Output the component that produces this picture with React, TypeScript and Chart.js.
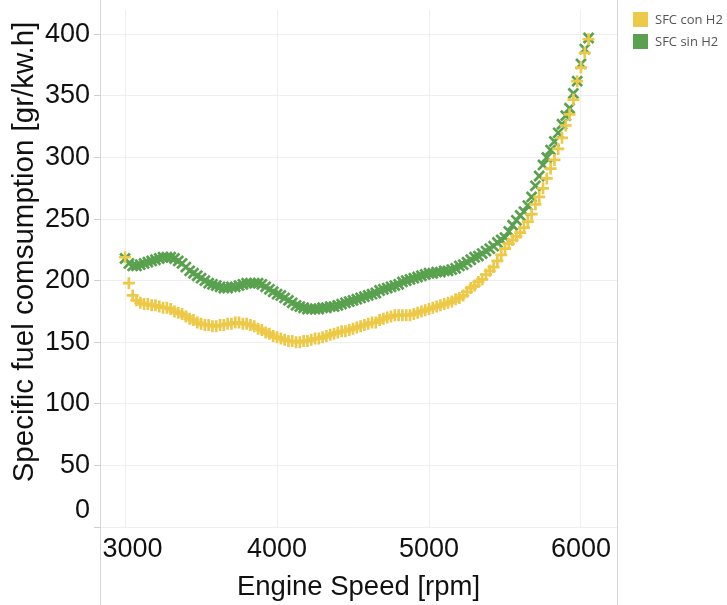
import React, { useEffect, useRef } from 'react';
import { Chart, registerables } from 'chart.js';

Chart.register(...registerables);

const rpm = [
  3000, 3025, 3050, 3075, 3100, 3125, 3150, 3175, 3200, 3225,
  3250, 3275, 3300, 3325, 3350, 3375, 3400, 3425, 3450, 3475,
  3500, 3525, 3550, 3575, 3600, 3625, 3650, 3675, 3700, 3725,
  3750, 3775, 3800, 3825, 3850, 3875, 3900, 3925, 3950, 3975,
  4000, 4025, 4050, 4075, 4100, 4125, 4150, 4175, 4200, 4225,
  4250, 4275, 4300, 4325, 4350, 4375, 4400, 4425, 4450, 4475,
  4500, 4525, 4550, 4575, 4600, 4625, 4650, 4675, 4700, 4725,
  4750, 4775, 4800, 4825, 4850, 4875, 4900, 4925, 4950, 4975,
  5000, 5025, 5050, 5075, 5100, 5125, 5150, 5175, 5200, 5225,
  5250, 5275, 5300, 5325, 5350, 5375, 5400, 5425, 5450, 5475,
  5500, 5525, 5550, 5575, 5600, 5625, 5650, 5675, 5700, 5725,
  5750, 5775, 5800, 5825, 5850, 5875, 5900, 5925, 5950, 5975,
  6000, 6025, 6050,
];

const sfcConH2 = [
  219, 198, 188, 184, 182, 181, 181, 180, 180, 179,
  178, 178, 177, 175, 174, 173, 171, 169, 168, 166,
  165, 164, 164, 163, 163, 164, 164, 165, 165, 166,
  166, 165, 165, 164, 163, 161, 160, 158, 157, 155,
  154, 153, 152, 151, 151, 150, 150, 151, 151, 152,
  153, 153, 154, 155, 156, 157, 158, 159, 159, 160,
  161, 162, 163, 164, 165, 166, 166, 168, 169, 170,
  171, 172, 172, 172, 172, 172, 173, 174, 175, 176,
  177, 178, 179, 180, 181, 182, 183, 185, 186, 188,
  191, 194, 196, 199, 201, 205, 208, 211, 216, 221,
  226, 230, 233, 236, 239, 243, 248, 254, 262, 268,
  275, 283, 291, 298, 307, 316, 326, 335, 347, 362,
  373, 385, 396,
];

const sfcSinH2 = [
  218, 214, 212, 212, 213, 214, 215, 216, 217, 218,
  219, 219, 219, 218, 216, 214, 211, 208, 206, 204,
  202, 200, 198, 197, 196, 195, 194, 194, 195, 195,
  196, 197, 198, 198, 198, 198, 197, 195, 193, 191,
  189, 188, 186, 184, 182, 180, 179, 178, 177, 177,
  177, 177, 178, 178, 179, 179, 180, 181, 182, 183,
  184, 185, 186, 187, 188, 189, 190, 192, 193, 194,
  195, 196, 197, 199, 200, 201, 202, 203, 204, 205,
  206, 206, 207, 207, 208, 208, 209, 210, 212, 213,
  215, 217, 219, 220, 222, 224, 226, 228, 231, 233,
  235, 240, 245, 249, 253, 256, 261, 268, 277, 285,
  294, 300, 306, 313, 320, 327, 334, 340, 352, 362,
  376, 388, 397,
];

const seriesLabels = ['SFC con H2', 'SFC sin H2'];
const seriesColors = ['#EDC948', '#59A14F'];
const xTicks = [3000, 4000, 5000, 6000];
const yTicks = [0, 50, 100, 150, 200, 250, 300, 350, 400];
const xTitle = 'Engine Speed [rpm]';
const yTitle = 'Specific fuel comsumption [gr/kw.h]';

const AXIS_FONT = '"Liberation Sans", Arial, sans-serif';

const framePlugin = {
  id: 'frameLines',
  afterDraw(chart: any) {
    const { ctx, chartArea, height } = chart;
    ctx.save();
    ctx.strokeStyle = '#d6d6d6';
    ctx.lineWidth = 1;
    ctx.beginPath();
    ctx.moveTo(Math.round(chartArea.left) + 0.5, 0);
    ctx.lineTo(Math.round(chartArea.left) + 0.5, height);
    ctx.moveTo(Math.round(chartArea.right) + 0.5, 0);
    ctx.lineTo(Math.round(chartArea.right) + 0.5, height);
    ctx.stroke();
    ctx.restore();
  },
};

const legendPlugin = {
  id: 'sideLegend',
  afterDraw(chart: any) {
    const { ctx, chartArea } = chart;
    const x0 = chartArea.right + 16;
    chart.data.datasets.forEach((ds: any, i: number) => {
      const y = 12 + i * 22;
      ctx.save();
      ctx.fillStyle = ds.borderColor;
      ctx.fillRect(x0, y, 15, 15);
      ctx.fillStyle = '#555555';
      ctx.font = '13px "Open Sans", sans-serif';
      ctx.textBaseline = 'middle';
      ctx.textAlign = 'left';
      ctx.fillText(ds.label, x0 + 22, y + 8);
      ctx.restore();
    });
  },
};

export default function App() {
  const canvasRef = useRef<HTMLCanvasElement | null>(null);

  useEffect(() => {
    if (!canvasRef.current) return;
    const datasets = [sfcConH2, sfcSinH2].map((vals, i) => ({
      label: seriesLabels[i],
      data: rpm.map((r, k) => ({ x: r, y: vals[k] })),
      borderColor: seriesColors[i],
      backgroundColor: seriesColors[i],
      pointStyle: i === 0 ? 'cross' : 'crossRot',
      pointRadius: i === 0 ? 6 : 7,
      pointBorderWidth: 2.7,
      pointHoverRadius: 6,
      showLine: false,
    }));

    const chart = new Chart(canvasRef.current, {
      type: 'scatter',
      data: { datasets } as any,
      plugins: [framePlugin, legendPlugin],
      options: {
        animation: false,
        responsive: true,
        maintainAspectRatio: false,
        layout: { padding: { left: 0, right: 110, top: 8, bottom: 0 } },
        plugins: {
          legend: { display: false },
          tooltip: { enabled: false },
        },
        scales: {
          x: {
            type: 'linear',
            min: 2835,
            max: 6237,
            afterBuildTicks: (scale: any) => {
              scale.ticks = xTicks.map((v) => ({ value: v }));
            },
            afterFit: (scale: any) => {
              scale.height = 78;
              scale.paddingLeft = 0;
              scale.paddingRight = 0;
            },
            grid: { color: '#efefef', drawTicks: false, tickLength: 0 },
            border: { display: false },
            ticks: {
              autoSkip: false,
              padding: 6,
              color: '#111111',
              font: { family: AXIS_FONT, size: 27 },
              maxRotation: 0,
              callback: (v: any) => (v === xTicks[0] ? '  ' + String(v) : String(v)),
            },
            title: {
              display: true,
              text: xTitle,
              color: '#111111',
              font: { family: AXIS_FONT, size: 27.5 },
              padding: { top: 0, bottom: 1 },
            },
          },
          y: {
            type: 'linear',
            min: 0,
            max: 420,
            afterBuildTicks: (scale: any) => {
              scale.ticks = yTicks.map((v) => ({ value: v }));
            },
            afterFit: (scale: any) => {
              scale.width = 100;
              scale.paddingTop = 0;
              scale.paddingBottom = 0;
            },
            grid: { color: '#efefef', tickColor: '#d0d0d0', tickLength: 6 },
            border: { display: false },
            ticks: {
              autoSkip: false,
              padding: 4,
              color: '#111111',
              font: { family: AXIS_FONT, size: 27 },
              callback: (v: any) => (v === 0 ? ['0', ''] : String(v)),
            },
            title: {
              display: true,
              text: '    ' + yTitle,
              color: '#111111',
              font: { family: AXIS_FONT, size: 29.5 },
              padding: { top: 7, bottom: 0 },
            },
          },
        },
      } as any,
    });
    return () => chart.destroy();
  }, []);

  return (
    <div style={{ position: 'fixed', left: 0, top: 0, width: 727, height: 605, background: '#ffffff' }}>
      <canvas ref={canvasRef} />
    </div>
  );
}
